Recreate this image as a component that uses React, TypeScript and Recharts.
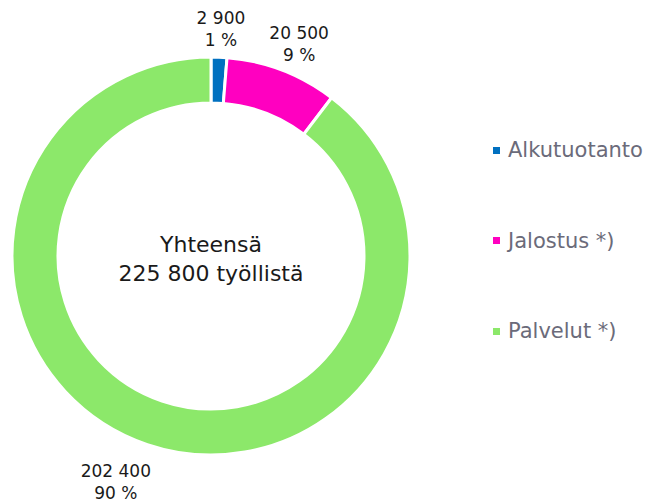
import React from "react";
import { PieChart, Pie, Cell, Legend } from "recharts";

const categories = ["Alkutuotanto", "Jalostus *)", "Palvelut *)"];
const workers = [2900, 20500, 202400];
const shares = ["1 %", "9 %", "90 %"];
const colors = ["#0070C0", "#FF00C0", "#8CE86A"];
const totalLabel = ["Yhteensä", "225 800 työllistä"];

const data = categories.map((name, i) => ({
  name,
  value: workers[i],
  share: shares[i],
  fill: colors[i],
}));

const fmt = (n: number) => String(n).replace(/\B(?=(\d{3})+(?!\d))/g, " ");

const FONT = "'DejaVu Sans', Verdana, sans-serif";

const renderLabel = (props: any) => {
  const { cx, cy, midAngle, outerRadius, index } = props;
  const rad = (-midAngle * Math.PI) / 180;
  const up = Math.sin(-rad) > 0;
  const r = outerRadius + (up ? 29 : 39);
  const x = cx + r * Math.cos(rad) * (up ? 1.08 : 1.25);
  const y = cy + r * Math.sin(rad);
  return (
    <text
      x={x}
      y={y}
      textAnchor="middle"
      fontFamily={FONT}
      fontSize={17}
      fill="#1a1a1a"
    >
      <tspan x={x} dy={-4}>
        {fmt(workers[index])}
      </tspan>
      <tspan x={x} dy={22}>
        {shares[index]}
      </tspan>
    </text>
  );
};

const renderLegend = () => (
  <div style={{ fontFamily: FONT }}>
    {categories.map((c, i) => (
      <div
        key={c}
        style={{
          display: "flex",
          alignItems: "center",
          height: 24,
          marginBottom: i < categories.length - 1 ? 66.5 : 0,
          color: "#6b6b7a",
          fontSize: 21,
          whiteSpace: "nowrap",
        }}
      >
        <span
          style={{
            width: 7,
            height: 7,
            background: colors[i],
            marginRight: 8,
            display: "inline-block",
          }}
        />
        {c}
      </div>
    ))}
  </div>
);

export default function App() {
  return (
    <div
      style={{
        position: "absolute",
        left: 0,
        top: 0,
        width: 648,
        height: 502,
        background: "#fff",
      }}
    >
      <PieChart
        width={648}
        height={502}
        margin={{ top: 0, right: 0, bottom: 0, left: 0 }}
      >
        <Pie
          data={data}
          dataKey="value"
          cx={211}
          cy={256}
          innerRadius={153}
          outerRadius={199}
          startAngle={90}
          endAngle={-270}
          stroke="#fff"
          strokeWidth={3}
          label={renderLabel}
          labelLine={false}
          isAnimationActive={false}
        >
          {data.map((d) => (
            <Cell key={d.name} fill={d.fill} />
          ))}
        </Pie>
        <text
          x={211}
          y={252}
          textAnchor="middle"
          fontFamily={FONT}
          fontSize={22}
          fill="#1a1a1a"
        >
          {totalLabel[0]}
        </text>
        <text
          x={211}
          y={281}
          textAnchor="middle"
          fontFamily={FONT}
          fontSize={22}
          fill="#1a1a1a"
        >
          {totalLabel[1]}
        </text>
        <Legend
          content={renderLegend}
          wrapperStyle={{ left: 493, top: 138, width: 160 }}
        />
      </PieChart>
    </div>
  );
}
